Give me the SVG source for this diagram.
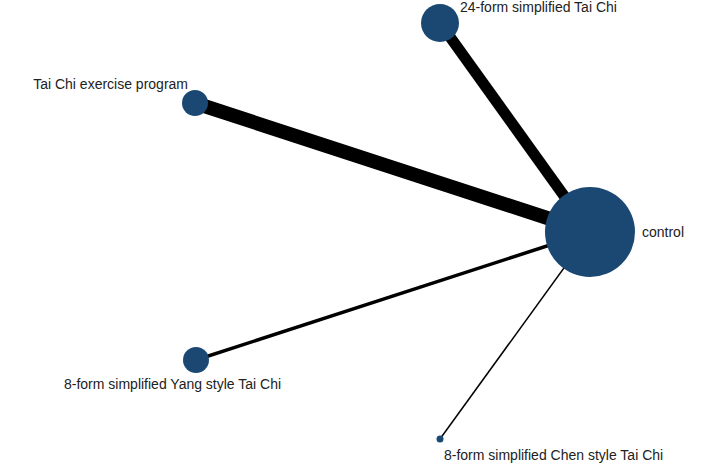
<svg xmlns="http://www.w3.org/2000/svg" width="708" height="466" viewBox="0 0 708 466">
<style>
.n{fill:#1a4872}
.t{font-family:"Liberation Sans",Arial,sans-serif;font-size:14px;fill:#222}
.e{stroke:#000;fill:none}
</style>
<rect width="708" height="466" fill="#fff"/>
<g id="edges">
<line class="e" x1="195" y1="103" x2="590" y2="232" stroke-width="14"/>
<line class="e" x1="440" y1="23" x2="590" y2="232" stroke-width="11"/>
<line class="e" x1="196" y1="360" x2="590" y2="232" stroke-width="3.5"/>
<line class="e" x1="440" y1="439" x2="590" y2="232" stroke-width="1.5"/>
</g>
<g id="control"><circle class="n" cx="590" cy="232" r="45"/><text class="t" x="642" y="237">control</text></g>
<g id="n24"><circle class="n" cx="440" cy="23" r="19"/><text class="t" x="460" y="12">24-form simplified Tai Chi</text></g>
<g id="ex"><circle class="n" cx="195" cy="103" r="13"/><text class="t" x="188" y="89" text-anchor="end">Tai Chi exercise program</text></g>
<g id="yang"><circle class="n" cx="196" cy="360" r="13"/><text class="t" x="64" y="389">8-form simplified Yang style Tai Chi</text></g>
<g id="chen"><circle class="n" cx="440" cy="439" r="3.5"/><text class="t" x="444" y="460">8-form simplified Chen style Tai Chi</text></g>
</svg>
